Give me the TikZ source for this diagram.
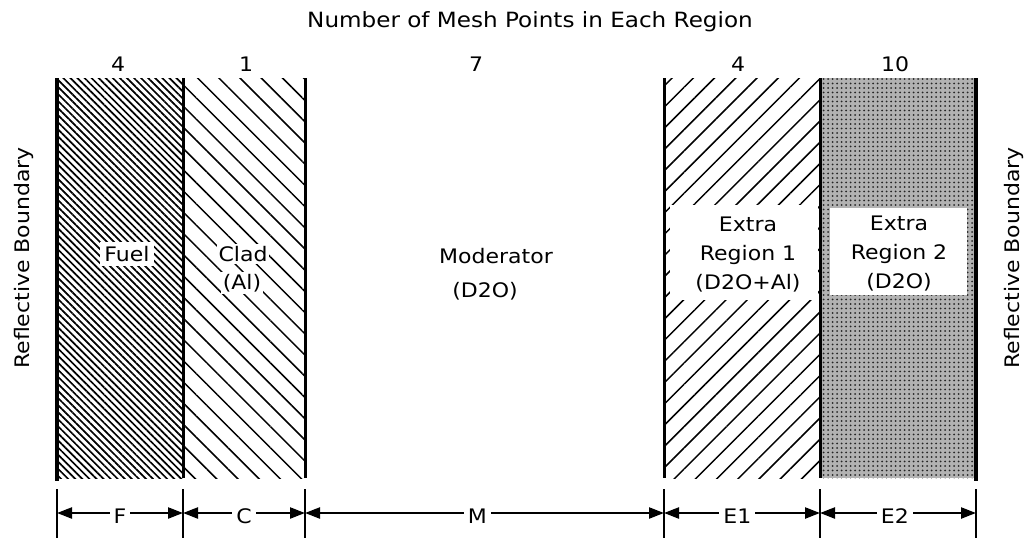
\documentclass[tikz,border=0pt]{standalone}
\usepackage{fontspec}
\setmainfont{DejaVu Sans}[FakeStretch=1.1]
\usetikzlibrary{patterns,patterns.meta,arrows.meta}
\begin{document}
\begin{tikzpicture}[x=1pt,y=-1pt,
  lab/.style={font=\fontsize{20}{29}\selectfont, inner sep=1pt, align=center},
  wlab/.style={lab, fill=white, inner sep=4pt},
  ttl/.style={font=\fontsize{21}{25}\selectfont, inner sep=0pt},
  bnd/.style={line width=3pt},
  outerbnd/.style={line width=4.8pt},
  tickline/.style={line width=1.4pt},
  dimtip/.tip={Triangle[length=15pt,width=11pt]},
  dimline/.style={line width=2.3pt, dimtip-dimtip},
  dimlab/.style={font=\fontsize{20}{24}\selectfont, fill=white, inner sep=4pt, yshift=-3pt},
]
\useasboundingbox (0,0) rectangle (1034,538);
% region fills
\fill[pattern={Lines[angle=-45,distance=5pt,line width=1.7pt]}] (57,78) rectangle (183,478);
\fill[pattern={Lines[angle=-45,distance=15pt,line width=1.5pt]}] (183,78) rectangle (305,478);
\fill[pattern={Lines[angle=45,distance=15pt,line width=1.5pt]}] (664,78) rectangle (820,478);
\fill[black!30] (820,78) rectangle (976,478);
\fill[pattern={Dots[distance=4.5pt,radius=1pt]}, pattern color=black!85] (820,78) rectangle (976,478);
% white label areas
\fill[white] (670,205) rectangle (818,300);
\fill[white] (830,208) rectangle (967,295);
% boundaries
\coordinate (b0t) at (57,78);   \coordinate (b0b) at (57,481);
\coordinate (b1t) at (183,78);  \coordinate (b1b) at (183,478);
\coordinate (b2t) at (305,78);  \coordinate (b2b) at (305,478);
\coordinate (b3t) at (664,78);  \coordinate (b3b) at (664,478);
\coordinate (b4t) at (820,78);  \coordinate (b4b) at (820,478);
\coordinate (b5t) at (976,78);  \coordinate (b5b) at (976,481);
\draw[outerbnd] (b0t) -- (b0b);
\draw[bnd] (b1t) -- (b1b);
\draw[bnd] (b2t) -- (b2b);
\draw[bnd] (b3t) -- (b3b);
\draw[bnd] (b4t) -- (b4b);
\draw[outerbnd] (b5t) -- (b5b);
% title and counts
\node[ttl] (title) at (530,22) {Number of Mesh Points in Each Region};
\node[lab] (n1) at (118,64) {4};
\node[lab] (n2) at (246,64) {1};
\node[lab] (n3) at (476,64) {7};
\node[lab] (n4) at (738,64) {4};
\node[lab] (n5) at (895,64) {10};
% side labels
\node[lab, rotate=90] (rbl) at (24,258) {Reflective Boundary};
\node[lab, rotate=90] (rbr) at (1014,258) {Reflective Boundary};
% region labels
\node[wlab] (fuel) at (127,254) {Fuel};
\node[wlab, inner sep=2pt] (clad1) at (243,254) {Clad};
\node[wlab, inner sep=2pt] (clad2) at (242,283) {(Al)};
\node[lab] (mod1) at (496,256) {Moderator};
\node[lab] (mod2) at (485,291) {(D2O)};
\node[lab] (e1) at (748,255) {Extra\\Region 1\\(D2O+Al)};
\node[lab] (e2) at (899,254) {Extra\\Region 2\\(D2O)};
% dimension ticks
\foreach \i/\x in {0/57,1/183,2/305,3/664,4/820,5/976}{
  \coordinate (tt\i) at (\x,489);
  \coordinate (tb\i) at (\x,538);
  \coordinate (d\i) at (\x,513);
  \draw[tickline] (tt\i) -- (tb\i);
}
\draw[dimline] (d0) -- node[dimlab] (lf) {F} (d1);
\draw[dimline] (d1) -- node[dimlab] (lc) {C} (d2);
\draw[dimline] (d2) -- node[dimlab, pos=0.48] (lm) {M} (d3);
\draw[dimline] (d3) -- node[dimlab, pos=0.47] (le1) {E1} (d4);
\draw[dimline] (d4) -- node[dimlab, pos=0.48] (le2) {E2} (d5);
\end{tikzpicture}
\end{document}
